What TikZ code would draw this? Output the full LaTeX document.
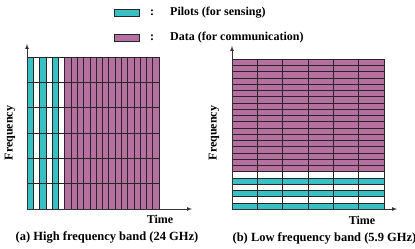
\documentclass[tikz,border=0pt]{standalone}
\usepackage{fontspec}
\setmainfont{Liberation Serif}
\usepackage{tikz}
\definecolor{pilotc}{RGB}{56,192,196}
\definecolor{datac}{RGB}{181,112,160}
\tikzset{
  cell/.style={draw=black!85, line width=0.5pt},
  axis/.style={draw=black!80, line width=0.7pt, -latex},
  lbl/.style={font=\bfseries\fontsize{12}{14}\selectfont, inner sep=0pt},
  captxt/.style={font=\bfseries\fontsize{12.5}{15}\selectfont, inner sep=0pt},
}

\begin{document}
\begin{tikzpicture}[x=1pt,y=-1pt]
  \useasboundingbox (0,0) rectangle (415,249);
  % legend
  \draw[cell,fill=pilotc] (114,9) rectangle (139,16);
  \node[lbl] (pcolon) at (152,13) {:};
  \node[lbl,anchor=west] (pkey) at (170,12.5) {Pilots (for sensing)};
  \draw[cell,fill=datac] (114,34) rectangle (139,41);
  \node[lbl] (dcolon) at (152,38) {:};
  \node[lbl,anchor=west] (dkey) at (170,37.5) {Data (for communication)};
  % (a) high band
  \begin{scope}[shift={(27,209)},x=6.286pt,y=25.33pt]
    \foreach \i in {0,2,4} \foreach \j in {0,...,5}
      \draw[cell,fill=pilotc] (\i,\j) rectangle (\i+1,\j+1);
    \foreach \i in {1,3,5} \foreach \j in {0,...,5}
      \draw[cell] (\i,\j) rectangle (\i+1,\j+1);
    \foreach \i in {6,...,20} \foreach \j in {0,...,5}
      \draw[cell,fill=datac] (\i,\j) rectangle (\i+1,\j+1);
  \end{scope}
  \coordinate (oa) at (27,209);
  \coordinate (fa) at (27,44);
  \coordinate (ta) at (192,209);
  \draw[axis] (oa) -- (fa);
  \draw[axis] (oa) -- (ta);
  \node[lbl,rotate=90] (freqa) at (10,133) {Frequency};
  \node[lbl] (timea) at (160,219) {Time};
  \node[captxt] (capa) at (107,237.5) {(a) High frequency band (24 GHz)};
  % (b) low band
  \begin{scope}[shift={(232,209)},x=25.33pt,y=6.25pt]
    \foreach \i in {0,...,5} \foreach \j in {0,2,4}
      \draw[cell,fill=pilotc] (\i,\j) rectangle (\i+1,\j+1);
    \foreach \i in {0,...,5} \foreach \j in {1,3,5}
      \draw[cell] (\i,\j) rectangle (\i+1,\j+1);
    \foreach \i in {0,...,5} \foreach \j in {6,...,23}
      \draw[cell,fill=datac] (\i,\j) rectangle (\i+1,\j+1);
  \end{scope}
  \coordinate (ob) at (232,209);
  \coordinate (fb) at (232,46);
  \coordinate (tb) at (397,209);
  \draw[axis] (ob) -- (fb);
  \draw[axis] (ob) -- (tb);
  \node[lbl,rotate=90] (freqb) at (214,133) {Frequency};
  \node[lbl] (timeb) at (362,220) {Time};
  \node[captxt] (capb) at (324.5,238.5) {(b) Low frequency band (5.9 GHz)};
\end{tikzpicture}
\end{document}
